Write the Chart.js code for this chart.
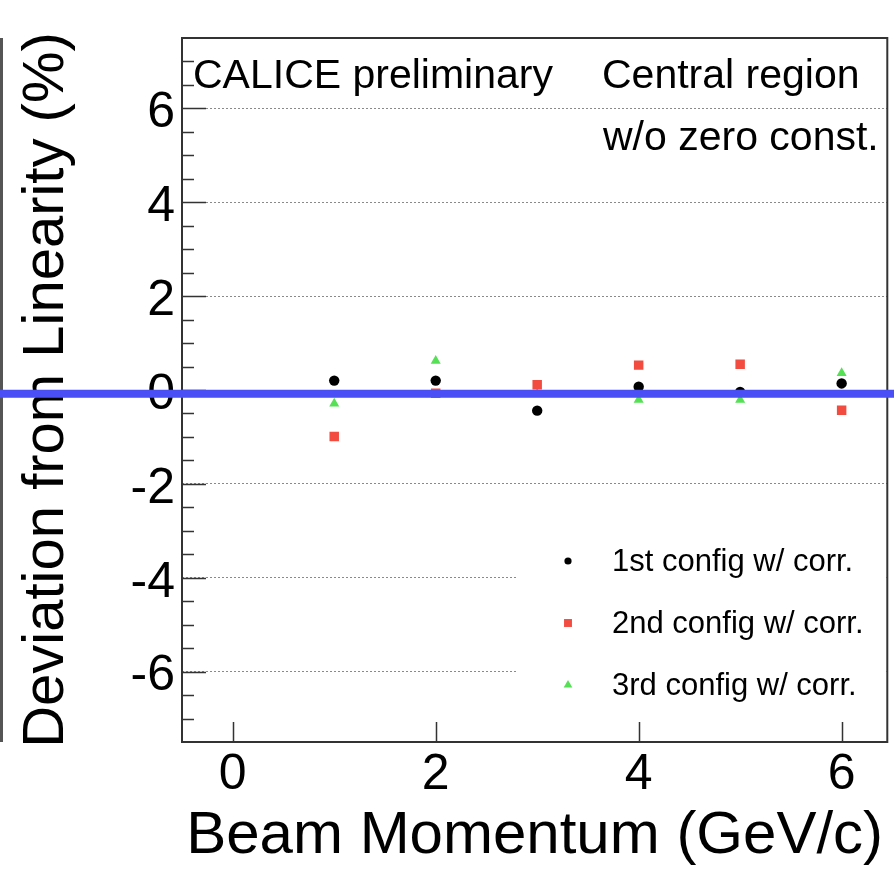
<!DOCTYPE html>
<html>
<head>
<meta charset="utf-8">
<script src="https://cdn.jsdelivr.net/npm/chart.js@4.4.1/dist/chart.umd.min.js"></script>
<style>
  html, body { margin: 0; padding: 0; background: #fff; }
  #wrap { width: 894px; height: 872px; position: relative; }
</style>
</head>
<body>
<div id="wrap"><canvas id="linChart"></canvas></div>
<script>
const momenta = [1, 2, 3, 4, 5, 6];
const config1 = [0.20, 0.20, -0.44, 0.07, -0.04, 0.14];
const config2 = [-0.99, -0.07, 0.11, 0.53, 0.55, -0.43];
const config3 = [-0.29, 0.62, -0.08, -0.21, -0.21, 0.36];
const seriesNames = ['1st config w/ corr.', '2nd config w/ corr.', '3rd config w/ corr.'];
const xTicks = [0, 2, 4, 6];
const yTicks = [-6, -4, -2, 0, 2, 4, 6];
const xRange = [-0.5, 6.45];
const yRange = [-7.5, 7.5];
const refLine = -0.08;
const plotLabels = ['CALICE preliminary', 'Central region', 'w/o zero const.'];

const FONT = "'Liberation Sans', Arial, Helvetica, sans-serif";
Chart.defaults.font.family = FONT;

const toPoints = (ys) => momenta.map((x, i) => ({ x: x, y: ys[i] }));
const legendRadius = [3.6, 5.6, 5];

// frame, inward ticks, legend, labels and the blue reference line
const overlay = {
  id: 'overlay',
  afterDatasetsDraw(chart) {
    const { ctx, chartArea: a, scales: { x, y } } = chart;
    ctx.save();

    // legend
    const lx = a.left + 336;
    ctx.fillStyle = '#fff';
    ctx.fillRect(lx, a.top + 486, a.right - lx - 1, 184);
    chart.data.datasets.forEach((ds, i) => {
      const cy = a.top + 523 + i * 62;
      ctx.fillStyle = ds.backgroundColor;
      Chart.helpers.drawPoint(ctx, { pointStyle: ds.pointStyle, radius: legendRadius[i], borderWidth: 0, rotation: 0 }, a.left + 386, cy);
      ctx.fillStyle = '#000';
      ctx.font = '31px ' + FONT;
      ctx.textAlign = 'left';
      ctx.textBaseline = 'alphabetic';
      ctx.fillText(ds.label, a.left + 430, cy + 10);
    });

    // text inside the plot
    ctx.fillStyle = '#000';
    ctx.font = '41px ' + FONT;
    ctx.fillText(plotLabels[0], a.left + 11, a.top + 50);
    ctx.fillText(plotLabels[1], a.left + 420, a.top + 50);
    ctx.fillText(plotLabels[2], a.left + 421, a.top + 112);

    // frame
    ctx.strokeStyle = '#333';
    ctx.lineWidth = 2;
    ctx.strokeRect(a.left, a.top, a.right - a.left, a.bottom - a.top);

    // y ticks (major + minor every 0.5)
    ctx.lineWidth = 1.5;
    ctx.beginPath();
    for (let k = yRange[0] * 2 + 1; k < yRange[1] * 2; k++) {
      const v = k / 2;
      const len = yTicks.includes(v) ? 24 : 12;
      const py = Math.round(y.getPixelForValue(v)) + 0.5;
      ctx.moveTo(a.left, py);
      ctx.lineTo(a.left + len, py);
    }
    xTicks.forEach((v) => {
      const px = Math.round(x.getPixelForValue(v)) + 0.5;
      ctx.moveTo(px, a.bottom);
      ctx.lineTo(px, a.bottom - 20);
    });
    ctx.stroke();

    // strip on the far left
    ctx.fillStyle = '#555';
    ctx.fillRect(0, a.top, 3, a.bottom - a.top);

    // blue reference line across the whole picture
    const by = y.getPixelForValue(refLine);
    ctx.fillStyle = '#4a4ff5';
    ctx.fillRect(0, by - 4, chart.width, 8);

    ctx.restore();
  }
};

new Chart(document.getElementById('linChart'), {
  type: 'scatter',
  data: {
    datasets: [
      { label: seriesNames[0], data: toPoints(config1), pointStyle: 'circle', pointRadius: 5.2, backgroundColor: '#000', pointBorderWidth: 0 },
      { label: seriesNames[1], data: toPoints(config2), pointStyle: 'rect', pointRadius: 6.7, backgroundColor: '#f24b3f', pointBorderWidth: 0 },
      { label: seriesNames[2], data: toPoints(config3), pointStyle: 'triangle', pointRadius: 5.8, backgroundColor: '#55e055', pointBorderWidth: 0 },
    ],
  },
  options: {
    responsive: true,
    maintainAspectRatio: false,
    animation: false,
    events: [],
    layout: { padding: { left: 0, top: 38, right: 6, bottom: 0 } },
    plugins: {
      legend: { display: false },
      tooltip: { enabled: false },
    },
    scales: {
      x: {
        type: 'linear',
        min: xRange[0],
        max: xRange[1],
        afterBuildTicks: (s) => { s.ticks = xTicks.map((v) => ({ value: v })); },
        afterFit: (s) => { s.height = 130; },
        grid: { display: false, drawTicks: false },
        border: { display: false },
        ticks: { color: '#000', font: { size: 50 }, padding: 3, maxRotation: 0, autoSkip: false },
        title: { display: true, text: 'Beam Momentum (GeV/c)', color: '#000', font: { size: 60 }, padding: { top: 0, bottom: 0 } },
      },
      y: {
        min: yRange[0],
        max: yRange[1],
        afterBuildTicks: (s) => { s.ticks = yTicks.map((v) => ({ value: v })); },
        afterFit: (s) => { s.width = 182; },
        grid: { display: true, drawTicks: false, color: '#8a8a8a', lineWidth: 1 },
        border: { display: false, dash: [2, 2] },
        ticks: { color: '#000', font: { size: 50 }, padding: 7, labelOffset: 5, autoSkip: false },
        title: { display: true, text: 'Deviation from Linearity (%)', color: '#000', font: { size: 58 }, padding: { top: 12, bottom: 0 } },
      },
    },
  },
  plugins: [overlay],
});
</script>
</body>
</html>
